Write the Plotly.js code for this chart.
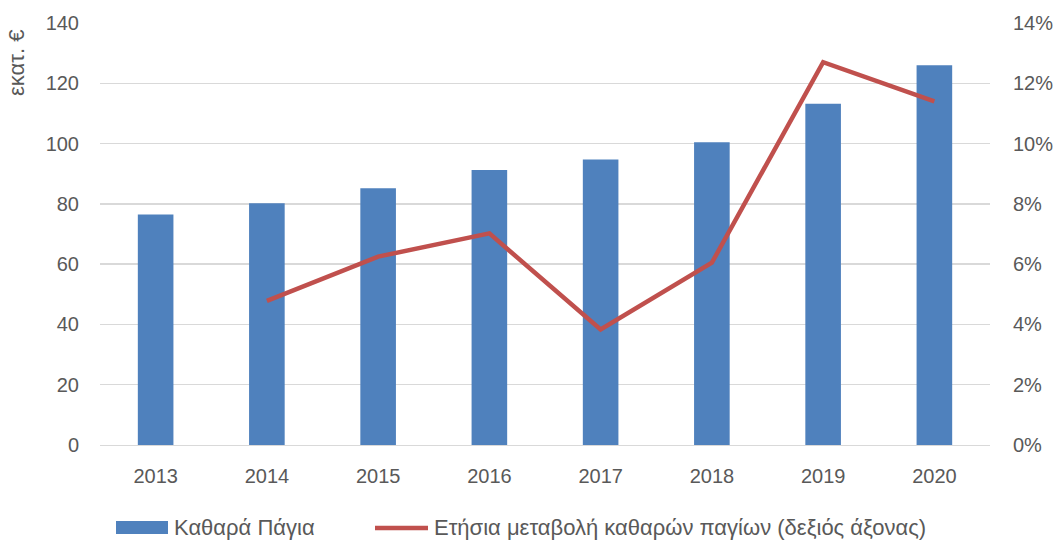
<!DOCTYPE html>
<html><head><meta charset="utf-8">
<script src="https://cdn.plot.ly/plotly-3.0.1.min.js"></script>
<style>body{margin:0;background:#fff}#c{width:1056px;height:540px}</style>
</head><body><div id="c"></div>
<script>
const years = ['2013','2014','2015','2016','2017','2018','2019','2020'];
const netAssets = [76.5, 80.2, 85.2, 91.2, 94.7, 100.4, 113.2, 126.0];
const changeYears = ['2014','2015','2016','2017','2018','2019','2020'];
const annualChange = [0.0478, 0.0625, 0.0702, 0.0383, 0.0605, 0.1270, 0.1140];
const seriesNames = ['Καθαρά Πάγια', 'Ετήσια μεταβολή καθαρών παγίων (δεξιός άξονας)'];
const yTitle = 'εκατ. €';

const blue = '#4f81bd', red = '#c0504d';
const font = {family: 'Liberation Sans, Arial, sans-serif', size: 20, color: '#595959'};
const bigFont = {...font, size: 22};
const W = 1056, H = 540, L = 100, R = 66, T = 23, B = 95;
const pw = W - L - R, ph = H - T - B;
const px = x => (x - L) / pw, py = y => (H - B - y) / ph;

Plotly.newPlot('c', [
  {type:'bar', x: years, y: netAssets, name: seriesNames[0], marker:{color: blue}, yaxis:'y'},
  {type:'scatter', mode:'lines', x: changeYears, y: annualChange, name: seriesNames[1], line:{color: red, width:4.5}, yaxis:'y2'}
], {
  width: W, height: H,
  margin:{l:L, r:R, t:T, b:B},
  paper_bgcolor:'#fff', plot_bgcolor:'#fff',
  font: font,
  bargap: 0.68,
  showlegend: false,
  xaxis:{type:'category', showgrid:false, showline:true, linecolor:'#d9d9d9', linewidth:1, ticks:'', tickfont:font, ticklabelstandoff:13, automargin:false},
  yaxis:{range:[0,140], dtick:20, showgrid:true, gridcolor:'#d9d9d9', gridwidth:1.3, zeroline:false, showline:false, ticks:'', tickfont:font, ticklabelstandoff:20, automargin:false},
  yaxis2:{overlaying:'y', side:'right', range:[0,0.14], dtick:0.02, tickformat:'.0%', showgrid:false, zeroline:false, showline:false, ticks:'', tickfont:font, ticklabelstandoff:22, automargin:false},
  shapes:[
    {type:'rect', xref:'paper', yref:'paper', x0:px(116), x1:px(168), y0:py(521), y1:py(534), fillcolor: blue, line:{width:0}},
    {type:'line', xref:'paper', yref:'paper', x0:px(375), x1:px(428), y0:py(528), y1:py(528), line:{color: red, width:4.5}}
  ],
  annotations:[
    {xref:'paper', yref:'paper', x:px(172), y:py(527), xanchor:'left', yanchor:'middle', text: seriesNames[0], showarrow:false, font:bigFont},
    {xref:'paper', yref:'paper', x:px(432), y:py(527), xanchor:'left', yanchor:'middle', text: seriesNames[1], showarrow:false, font:bigFont},
    {xref:'paper', yref:'paper', x:px(17), y:py(28), xanchor:'center', yanchor:'top', textangle:-90, text: yTitle, showarrow:false, font:bigFont}
  ]
}, {staticPlot:true});
</script></body></html>
